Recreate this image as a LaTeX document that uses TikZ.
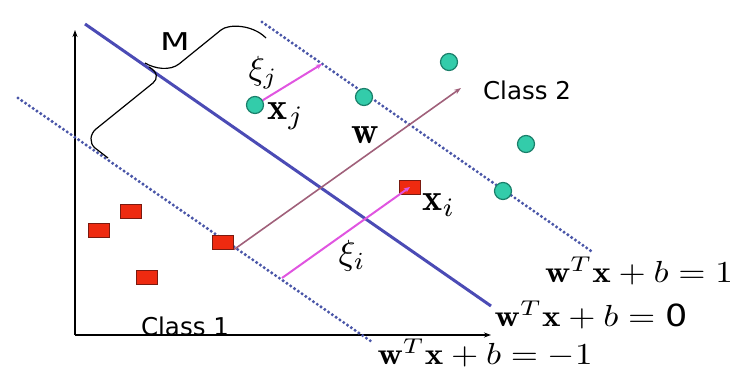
\documentclass[tikz,border=0pt]{standalone}
\usepackage{fontspec}
\newfontfamily\sansf{DejaVu Sans}
\usetikzlibrary{arrows.meta}
\definecolor{tealfill}{HTML}{33CCAA}
\definecolor{tealline}{HTML}{1A7F6A}
\definecolor{redfill}{HTML}{EE2A10}
\definecolor{redline}{HTML}{7A1A10}
\definecolor{planeblue}{HTML}{4B4BB5}
\definecolor{dotblue}{HTML}{4A56A8}
\definecolor{mauve}{HTML}{A0607A}
\definecolor{magentaline}{HTML}{E055E0}
\begin{document}
\begin{tikzpicture}[x=1pt,y=-1pt,
  ptcirc/.style={circle,draw=tealline,fill=tealfill,line width=1.2pt,minimum size=17pt,inner sep=0pt},
  ptsq/.style={rectangle,draw=redline,fill=redfill,line width=1pt,minimum width=21pt,minimum height=14pt,inner sep=0pt},
  hyper/.style={planeblue,line width=3pt},
  margin/.style={dotblue,line width=3.4pt,line cap=round,dash pattern=on 0pt off 4.6pt},
  slack/.style={magentaline,line width=2pt,-{Stealth[length=6pt,width=5pt]}},
  axisline/.style={black,line width=1.1pt,-{Stealth[length=7pt,width=5pt]}},
  brace/.style={black,line width=1.2pt},
  eq/.style={inner sep=0pt,xscale=3.5,yscale=3.05},
  sanslab/.style={inner sep=0pt,font=\sansf,scale=2.45},
  mathlab/.style={inner sep=0pt,scale=3.8}]
\useasboundingbox (0,0) rectangle (733,369);
% axes
\coordinate (origin) at (75,335);
\coordinate (ytop) at (75,30);
\coordinate (xend) at (491,335);
\draw[axisline] (origin) -- (ytop);
\draw[axisline] (origin) -- (xend);
% hyperplanes
\coordinate (h0a) at (85,24);
\coordinate (h0b) at (491,306);
\coordinate (hpa) at (262,22);
\coordinate (hpb) at (594,253);
\coordinate (hma) at (18,98);
\coordinate (hmb) at (372,342);
\draw[hyper] (h0a) -- (h0b);
\draw[margin] (hpa) -- (hpb);
\draw[margin] (hma) -- (hmb);
% braces
\draw[brace] (145,63) .. controls (155,69) and (170,71) .. (179,64) -- (221,30)
  .. controls (228,24) and (252,24) .. (266,38);
\draw[brace] (149,67) .. controls (158,72) and (158,79) .. (153,83) -- (96,129)
  .. controls (90,134) and (89,143) .. (95,148) -- (108,158);
% points class 2
\node[ptcirc] (cj) at (255,105) {};
\node[ptcirc] (c2) at (364,97) {};
\node[ptcirc] (c3) at (449,62) {};
\node[ptcirc] (c4) at (526,144) {};
\node[ptcirc] (c5) at (503,191) {};
% points class 1
\node[ptsq] (s1) at (131,211) {};
\node[ptsq] (s2) at (99,230) {};
\node[ptsq] (s3) at (147,277) {};
\node[ptsq] (s4) at (223,242) {};
\node[ptsq] (si) at (410,187) {};
% w vector
\coordinate (wtip) at (461,88);
\draw[mauve,line width=1.6pt,-{Stealth[length=7pt,width=5pt]}] (s4.south east) -- (wtip);
% slacks
\coordinate (xjfoot) at (322,64);
\coordinate (xifoot) at (282,278);
\draw[slack] (cj) -- (xjfoot);
\draw[slack] (xifoot) -- (si.center);
% labels
\node[sanslab,xscale=1.4] (mlab) at (175,42) {M};
\node[mathlab,scale=0.88] (xijlab) at (263,73) {$\xi_j$};
\node[mathlab] (xjlab) at (286,116) {$\mathbf{x}_j$};
\node[mathlab] (wlab) at (365,135) {$\mathbf{w}$};
\node[sanslab] (c2lab) at (527,90) {Class 2};
\node[mathlab] (xilab) at (439,205) {$\mathbf{x}_i$};
\node[mathlab,scale=0.92] (xiilab) at (352,256) {$\xi_i$};
\node[sanslab] (c1lab) at (185,326) {Class 1};
\node[eq] (eqp) at (639,271) {$\mathbf{w}^T\mathbf{x}+b=1$};
\node[eq] (eqz) at (591,315) {$\mathbf{w}^T\mathbf{x}+b=\hbox{\sansf 0}$};
\node[eq] (eqm) at (485,353) {$\mathbf{w}^T\mathbf{x}+b=-1$};
\end{tikzpicture}
\end{document}
